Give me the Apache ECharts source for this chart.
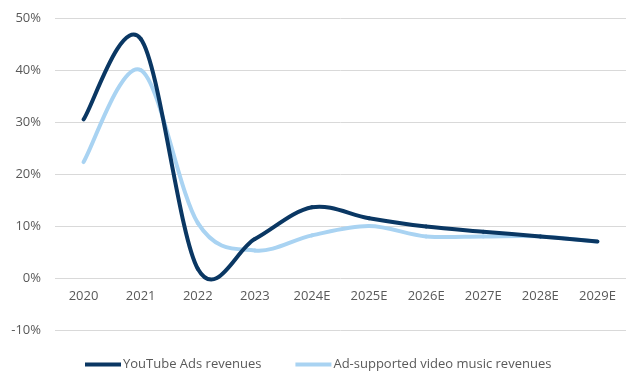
<!DOCTYPE html>
<html><head><meta charset="utf-8">
<script src="https://cdn.jsdelivr.net/npm/echarts@6/dist/echarts.min.js"></script>
<style>html,body{margin:0;padding:0;background:#fff}#c{width:626px;height:372px}</style>
</head><body><div id="c"></div>
<script>
const categories = ['2020','2021','2022','2023','2024E','2025E','2026E','2027E','2028E','2029E'];
const youtubeAds = [30.5, 46.0, 1.8, 7.5, 13.6, 11.5, 9.9, 8.9, 8.0, 7.0];
const adSupported = [22.3, 40.0, 10.6, 5.3, 8.2, 10.0, 8.0, 8.0, 8.0, 7.0];
const seriesNames = ['YouTube Ads revenues', 'Ad-supported video music revenues'];
const seriesColors = ['#0a3763', '#a9d3f2'];
const yTicks = {min: -10, max: 50, interval: 10};

const font = '"Open Sans", sans-serif';

// Excel-like smoothed line (Catmull-Rom bezier) drawn via the chart's coordinate system
function smoothRenderer(values, color) {
  return function (params, api) {
    const i = params.dataIndex;
    const n = values.length;
    if (i >= n - 1) return null;
    const p = k => api.coord([Math.max(0, Math.min(n - 1, k)), values[Math.max(0, Math.min(n - 1, k))]]);
    const p0 = p(i - 1), p1 = p(i), p2 = p(i + 1), p3 = p(i + 2);
    const t = 1 / 6;
    return {
      type: 'bezierCurve',
      shape: {
        x1: p1[0], y1: p1[1], x2: p2[0], y2: p2[1],
        cpx1: p1[0] + (p2[0] - p0[0]) * t, cpy1: p1[1] + (p2[1] - p0[1]) * t,
        cpx2: p2[0] - (p3[0] - p1[0]) * t, cpy2: p2[1] - (p3[1] - p1[1]) * t
      },
      style: {stroke: color, lineWidth: 4, fill: null, lineCap: 'round'}
    };
  };
}

const chart = echarts.init(document.getElementById('c'));
chart.setOption({
  animation: false,
  grid: {left: 55, top: 18, width: 577, height: 312},
  legend: {
    top: 353, left: 80, itemGap: 34, itemWidth: 36, itemHeight: 4,
    icon: 'rect',
    textStyle: {color: '#595959', fontSize: 13, fontFamily: font, padding: [0,0,0,-3]},
    data: seriesNames
  },
  xAxis: {
    type: 'category', data: categories, boundaryGap: true,
    offset: -52,
    axisLine: {show: false},
    axisTick: {show: false},
    axisLabel: {color: '#595959', fontSize: 13, fontFamily: font, margin: 12}
  },
  yAxis: {
    type: 'value', min: yTicks.min, max: yTicks.max, interval: yTicks.interval,
    axisLine: {show: false}, axisTick: {show: false},
    splitLine: {lineStyle: {color: '#d9d9d9', width: 1}},
    axisLabel: {color: '#595959', fontSize: 13, fontFamily: font, margin: 14, formatter: v => v + '%'}
  },
  series: [
    {name: seriesNames[1], type: 'custom', coordinateSystem: 'cartesian2d',
     data: adSupported.map((v, i) => [i, v]), encode: {x: 0, y: 1},
     renderItem: smoothRenderer(adSupported, seriesColors[1]),
     itemStyle: {color: seriesColors[1]}, z: 2},
    {name: seriesNames[0], type: 'custom', coordinateSystem: 'cartesian2d',
     data: youtubeAds.map((v, i) => [i, v]), encode: {x: 0, y: 1},
     renderItem: smoothRenderer(youtubeAds, seriesColors[0]),
     itemStyle: {color: seriesColors[0]}, z: 3}
  ]
});
</script></body></html>
